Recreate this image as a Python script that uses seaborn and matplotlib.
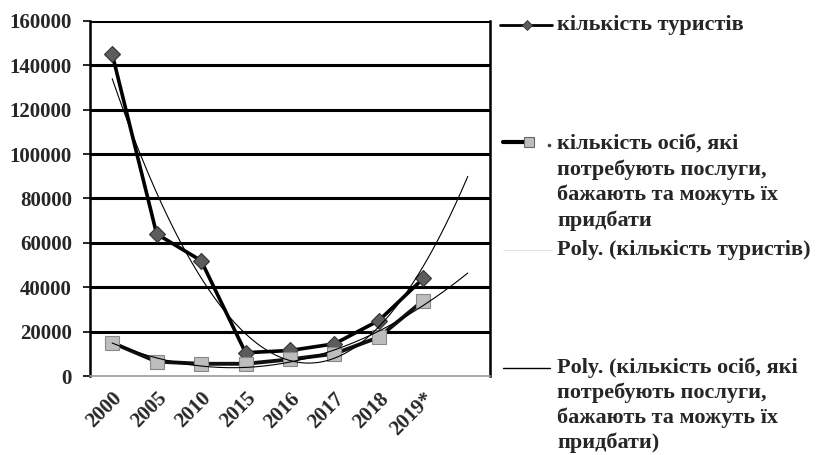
import numpy as np
import pandas as pd
import seaborn as sns
import matplotlib.pyplot as plt
from matplotlib.lines import Line2D

# ---- data ----
years = ["2000", "2005", "2010", "2015", "2016", "2017", "2018", "2019*"]
tourists = [145000, 64000, 52000, 10500, 11500, 14500, 25000, 44000]
persons = [15000, 6500, 5500, 5500, 7500, 10000, 17500, 34000]

lbl_tour = "кількість туристів"
lbl_pers = "кількість осіб, які\nпотребують послуги,\nбажають та можуть їх\nпридбати"
lbl_poly_tour = "Poly. (кількість туристів)"
lbl_poly_pers = "Poly. (кількість осіб, які\nпотребують послуги,\nбажають та можуть їх\nпридбати)"

sns.set_theme(style="white")
plt.rcParams["font.family"] = ["Liberation Serif", "DejaVu Serif"]
plt.rcParams["font.weight"] = "bold"
FS_Y = 15      # y tick labels
FS_X = 15      # x tick labels
FS_LEG = 16    # legend text

df = pd.DataFrame({"x": np.arange(len(years)), "tourists": tourists, "persons": persons})

# order-2 polynomial trendlines (as in Excel "Poly."), extended one period forward
xs = np.linspace(0, len(years), 200)
trend = pd.DataFrame({
    "x": xs,
    "tour": np.polyval(np.polyfit(df["x"], df["tourists"], 2), xs),
    "pers": np.polyval(np.polyfit(df["x"], df["persons"], 2), xs),
})

fig = plt.figure(figsize=(8.17, 4.55), dpi=100)
ax = fig.add_axes([90 / 817, 1 - 376 / 455, 400 / 817, 355 / 455])

for y in range(20000, 160001, 20000):
    ax.axhline(y, color="black", lw=2.2, zorder=1)

sns.lineplot(data=df, x="x", y="tourists", ax=ax, color="black", lw=2.6,
             marker="D", markersize=8.5, markerfacecolor="#5c5c5c",
             markeredgecolor="#333333", markeredgewidth=0.8, zorder=3)
sns.lineplot(data=df, x="x", y="persons", ax=ax, color="#111111", lw=2.8,
             marker="s", markersize=10, markerfacecolor="#bdbdbd",
             markeredgecolor="#888888", markeredgewidth=0.8, zorder=3)
sns.lineplot(data=trend, x="x", y="tour", ax=ax, color="black", lw=0.8, zorder=4)
sns.lineplot(data=trend, x="x", y="pers", ax=ax, color="black", lw=0.8, zorder=4)

ax.set_xlim(-0.5, len(years) + 0.5)
ax.set_ylim(0, 160000)
ax.set_xlabel("")
ax.set_ylabel("")
ax.set_xticks(np.arange(len(years)))
ax.set_xticklabels(years, rotation=45, ha="right", va="top",
                   rotation_mode="anchor", fontsize=FS_X, fontweight="bold")
ax.set_xticks(np.arange(-0.5, len(years) + 1, 1), minor=True)
ax.tick_params(axis="x", which="major", length=0, pad=9)
ax.tick_params(axis="x", which="minor", length=5, width=1, color="#999999", direction="out")
ax.set_yticks(range(0, 160001, 20000))
ax.set_yticklabels([str(v) for v in range(0, 160001, 20000)], fontsize=FS_Y, fontweight="bold")
ax.tick_params(axis="y", length=5, width=1.2, color="black", direction="out", pad=8, left=True)

for side in ["left", "right"]:
    ax.spines[side].set_color("black")
    ax.spines[side].set_linewidth(1.8)
ax.spines["top"].set_visible(False)
ax.spines["bottom"].set_color("#999999")
ax.spines["bottom"].set_linewidth(1.2)

# ---- legend drawn beside the plot ----
def fy(px):
    return 1 - px / 455

def fx(px):
    return px / 817

tx = fx(557)
fig.add_artist(Line2D([fx(500), fx(552)], [fy(25), fy(25)], color="black", lw=2))
fig.add_artist(Line2D([fx(527)], [fy(25)], marker="D", markersize=5.5, color="#5c5c5c",
                      markeredgecolor="#333333", markeredgewidth=0.6))
fig.text(tx, fy(25), lbl_tour, fontsize=FS_LEG, fontweight="bold", va="center")

fig.add_artist(Line2D([fx(503), fx(526)], [fy(142), fy(142)], color="black", lw=3))
fig.add_artist(Line2D([fx(529)], [fy(142)], marker="s", markersize=7, color="#bdbdbd",
                      markeredgecolor="#666666", markeredgewidth=0.8))
fig.add_artist(Line2D([fx(549)], [fy(145)], marker="o", markersize=1.6, color="#444444"))
fig.text(tx, fy(134), lbl_pers, fontsize=FS_LEG, fontweight="bold", va="top", linespacing=1.33)

fig.add_artist(Line2D([fx(503), fx(552)], [fy(250), fy(250)], color="#dddddd", lw=0.6))
fig.text(tx, fy(250), lbl_poly_tour, fontsize=FS_LEG, fontweight="bold", va="center")

fig.add_artist(Line2D([fx(503), fx(550)], [fy(368), fy(368)], color="black", lw=1))
fig.text(tx, fy(358), lbl_poly_pers, fontsize=FS_LEG, fontweight="bold", va="top", linespacing=1.28)

fig.savefig("out.png", dpi=100)
